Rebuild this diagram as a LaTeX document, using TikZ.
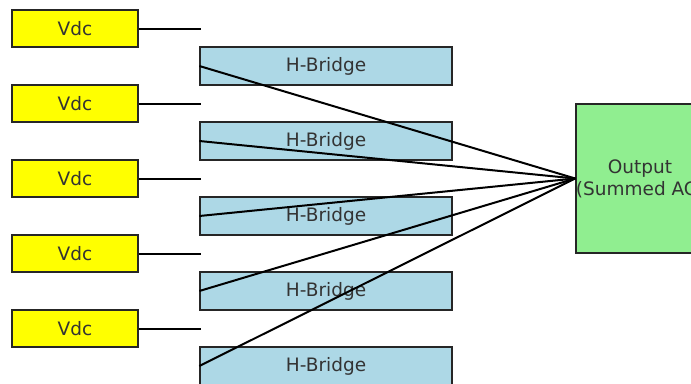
\documentclass[tikz,border=0pt]{standalone}
\usepackage{fontspec}
\setmainfont{DejaVu Sans}
\definecolor{txtgray}{HTML}{333333}
\definecolor{edgegray}{HTML}{262626}
\definecolor{srcyellow}{HTML}{FFFF00}
\definecolor{bridgeblue}{HTML}{ADD8E6}
\definecolor{outgreen}{HTML}{90EE90}
\begin{document}
\begin{tikzpicture}[x=1pt,y=-1pt,
  box/.style={draw=edgegray,line width=1.3pt,inner sep=0pt,text=txtgray,
    font=\fontsize{18.5}{22}\selectfont,align=center},
  srcbox/.style={box,fill=srcyellow,minimum width=126pt,minimum height=37pt},
  bridgebox/.style={box,fill=bridgeblue,minimum width=252pt,minimum height=38pt},
  outbox/.style={box,fill=outgreen,minimum width=126pt,minimum height=149pt},
  wire/.style={line width=2pt,black}]
\useasboundingbox (0,0) rectangle (691,383);
\clip (0,0) rectangle (691,383);

\node[outbox] (out) at (640,178.5) {Output\\(Summed AC)};

\foreach \i in {0,...,4}{
  \node[srcbox] (v\i) at (75,{28.5+75*\i}) {Vdc};
  \coordinate (t\i) at (201,{28.5+75*\i});
  \draw[wire] (v\i.east) -- (t\i);
  \node[bridgebox] (h\i) at (326,{66+75*\i}) {H-Bridge};
}
\foreach \i in {0,...,4}{
  \draw[wire] (h\i.west) -- (out.west);
}
\end{tikzpicture}
\end{document}
